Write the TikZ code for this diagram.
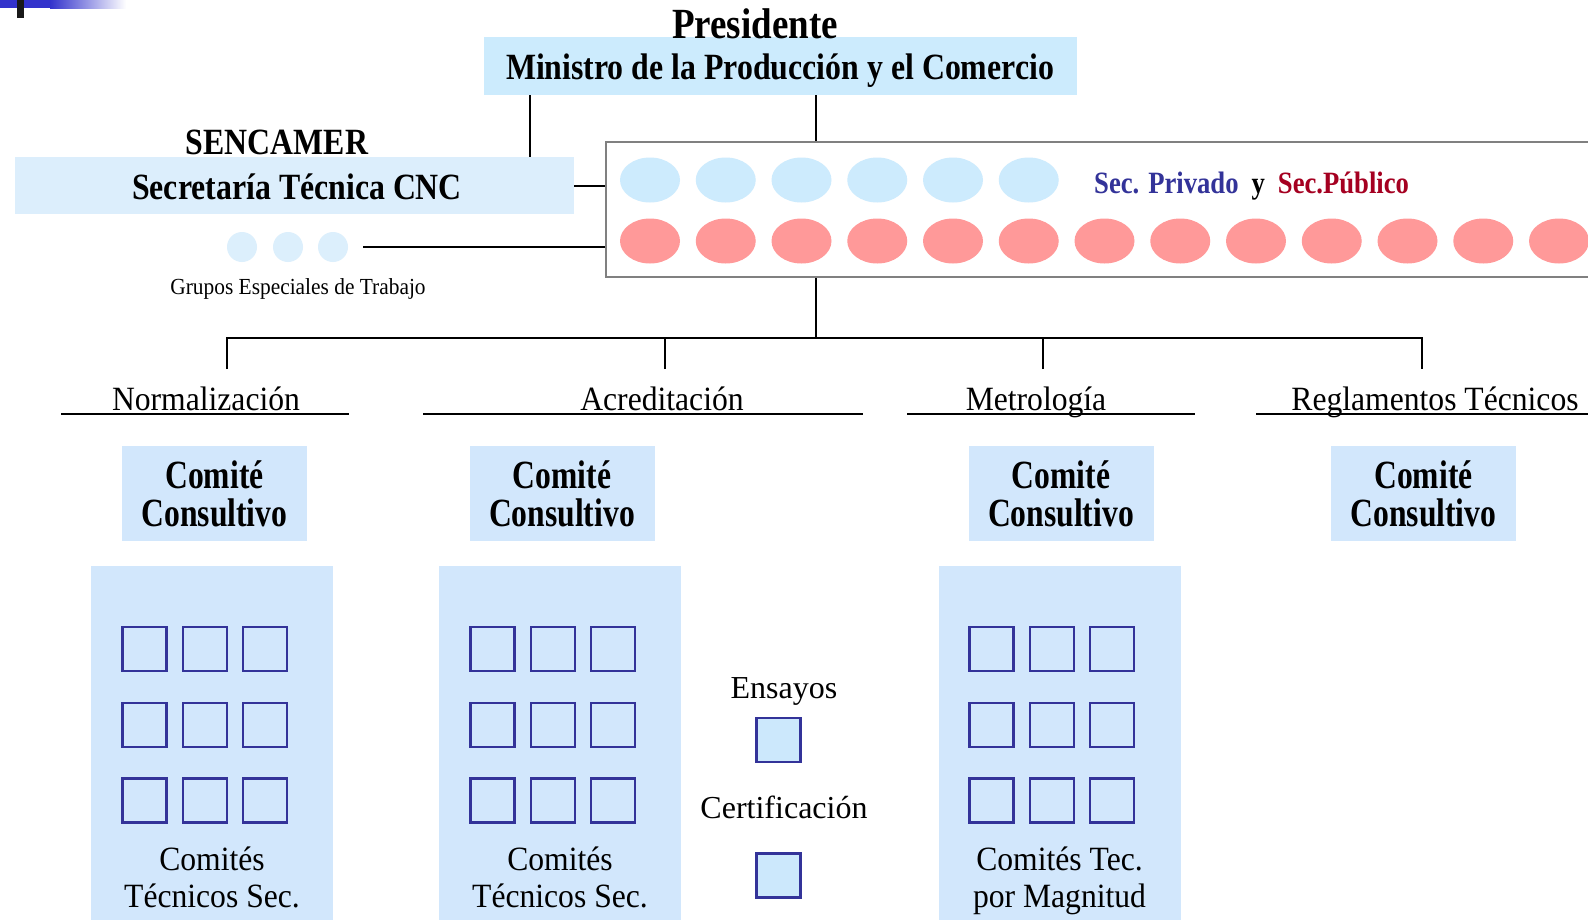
\documentclass[tikz,border=0pt]{standalone}
\usepackage{fontspec}
\setmainfont{Liberation Serif}
\newfontfamily\cbf[FakeStretch=0.86]{Liberation Serif}
\newfontfamily\ccbf[FakeStretch=0.79]{Liberation Serif}
\newfontfamily\cnr[FakeStretch=0.93]{Liberation Serif}
\usetikzlibrary{shapes.geometric}
\definecolor{topblue}{HTML}{3333CC}
\definecolor{hdr}{HTML}{CCEBFD}
\definecolor{secfill}{HTML}{DCEEFC}
\definecolor{panel}{HTML}{D2E7FC}
\definecolor{elllight}{HTML}{CDEBFD}
\definecolor{dotfill}{HTML}{DCEFFC}
\definecolor{ellred}{HTML}{FF9999}
\definecolor{navy}{HTML}{333399}
\definecolor{crim}{HTML}{A50021}
\definecolor{sqfill}{HTML}{CCE8FC}
\tikzset{
  conn/.style={line width=2pt},
  uline/.style={line width=2pt},
  boldtxt/.style={font=\cbf\bfseries\fontsize{37}{40}\selectfont, inner sep=0pt, anchor=base},
  fillbox/.style={inner sep=0pt, draw=none},
  ell/.style={ellipse, minimum width=60pt, minimum height=45pt, inner sep=0pt},
  head/.style={font=\cnr\fontsize{34}{36}\selectfont, inner sep=0pt, anchor=base},
  ccbox/.style={fill=panel, minimum width=185pt, minimum height=95pt, inner sep=0pt},
  cctxt/.style={font=\ccbf\bfseries\fontsize{40}{38}\selectfont, align=center, anchor=base, inner sep=0pt},
  panelbox/.style={fill=panel, minimum width=242pt, minimum height=358pt, inner sep=0pt},
  sqbox/.style={draw=navy, line width=2.3pt, minimum width=44pt, minimum height=44pt, inner sep=0pt},
  ptxt/.style={font=\cnr\fontsize{34}{37.5}\selectfont, align=center, anchor=base, inner sep=0pt},
  plain/.style={font=\fontsize{32}{34}\selectfont, anchor=base, inner sep=0pt}
}
\begin{document}
\begin{tikzpicture}[x=1pt,y=-1pt]
\clip (0,0) rectangle (1588,919);
\fill[white] (0,0) rectangle (1588,919);
% top-left ornament
\fill[topblue] (0,0) rectangle (50,8);
\shade[left color=topblue,right color=white] (50,0) rectangle (126,8);
\fill[black!90] (17,0) rectangle (24,18);

% header
\node[fillbox, fill=hdr, minimum width=593pt, minimum height=58pt] (min) at (780.5,66) {};
\node[boldtxt] (mint) at (780,79) {Ministro de la Producción y el Comercio};
\node[boldtxt, font=\cbf\bfseries\fontsize{43}{45}\selectfont] (pres) at (755,38.5) {Presidente};

% secretaria
\node[fillbox, fill=secfill, minimum width=559pt, minimum height=57pt] (sec) at (294.5,185.5) {};
\node[boldtxt] (sect) at (297,199.5) {Secretaría Técnica CNC};
\node[boldtxt] (senc) at (277,154) {SENCAMER};

% big box with ellipses
\node[draw=black!50, line width=2.5pt, fill=white, minimum width=1004pt, minimum height=135pt, inner sep=0pt] (big) at (1108,209.5) {};
\foreach \i in {0,...,5} \node[ell, fill=elllight] (e\i) at ({650+75.75*\i},180) {};
\foreach \i in {0,...,12} \node[ell, fill=ellred] (r\i) at ({650+75.75*\i},241) {};
\node[font=\cbf\bfseries\fontsize{31}{34}\selectfont, anchor=base west, inner sep=0pt] (sp) at (1094,193.5)
  {\textcolor{navy}{Sec. Privado}\hspace{13pt}y\hspace{13pt}\textcolor{crim}{Sec.Público}};

% grupos
\foreach \x/\n in {242/g1,288/g2,333/g3}
  \node[circle, fill=dotfill, minimum size=30pt, inner sep=0pt] (\n) at (\x,247) {};
\node[font=\cnr\fontsize{23}{25}\selectfont, anchor=base, inner sep=0pt] (gr) at (298,294.7) {Grupos Especiales de Trabajo};

% connectors
\coordinate (j1) at (530,0);
\coordinate (j2) at (816,0);
\draw[conn] (min.south -| j1) -- (sec.north -| j1);
\draw[conn] (min.south -| j2) -- (big.north -| j2);
\draw[conn] (sec.east) -- (sec.east -| big.west);
\draw[conn] ([xshift=15pt]g3.east) -- (g3.east -| big.west);

\coordinate (bus) at (816,338);
\coordinate (d1) at (227,369);
\coordinate (d2) at (665,369);
\coordinate (d3) at (1043,369);
\coordinate (d4) at (1422,369);
\draw[conn] (big.south -| bus) -- (bus);
\draw[conn] (d1) -- (d1 |- bus) -- (d4 |- bus) -- (d4);
\draw[conn] (d2) -- (d2 |- bus);
\draw[conn] (d3) -- (d3 |- bus);

% headings
\node[head] (h1) at (206,410) {Normalización};
\node[head] (h2) at (662,410) {Acreditación};
\node[head] (h3) at (1036,410) {Metrología};
\node[head] (h4) at (1435,410) {Reglamentos Técnicos};
\draw[uline] (61,414) -- (349,414);
\draw[uline] (423,414) -- (863,414);
\draw[uline] (907,414) -- (1195,414);
\draw[uline] (1256,414) -- (1600,414);

% comite consultivo
\foreach \x/\n in {214.5/c1, 562/c2, 1061/c3, 1423.5/c4} {
  \node[ccbox] (\n) at (\x,493.5) {};
  \node[cctxt] (\n-t) at (\x,526) {Comité\\Consultivo};
}

% panels
\foreach \x/\n in {212/p1, 560/p2, 1059.5/p3}
  \node[panelbox] (\n) at (\x,745) {};
\foreach \px/\p in {91/p1, 439/p2, 938/p3}
  \foreach \c in {0,1,2}
    \foreach \r in {0,1,2}
      \node[sqbox] (\p-s\c\r) at ({\px+53.5+60.25*\c},{649+75.75*\r}) {};
\node[ptxt] (p1t) at (212,907.5) {Comités\\Técnicos Sec.};
\node[ptxt] (p2t) at (560,907.5) {Comités\\Técnicos Sec.};
\node[ptxt] (p3t) at (1059.5,907.5) {Comités Tec.\\por Magnitud};

% ensayos / certificacion
\node[plain] (ens) at (784,698) {Ensayos};
\node[sqbox, fill=sqfill] (ensq) at (778.5,740) {};
\node[plain] (cert) at (784,818) {Certificación};
\node[sqbox, fill=sqfill] (certq) at (778.5,875.5) {};
\end{tikzpicture}
\end{document}
